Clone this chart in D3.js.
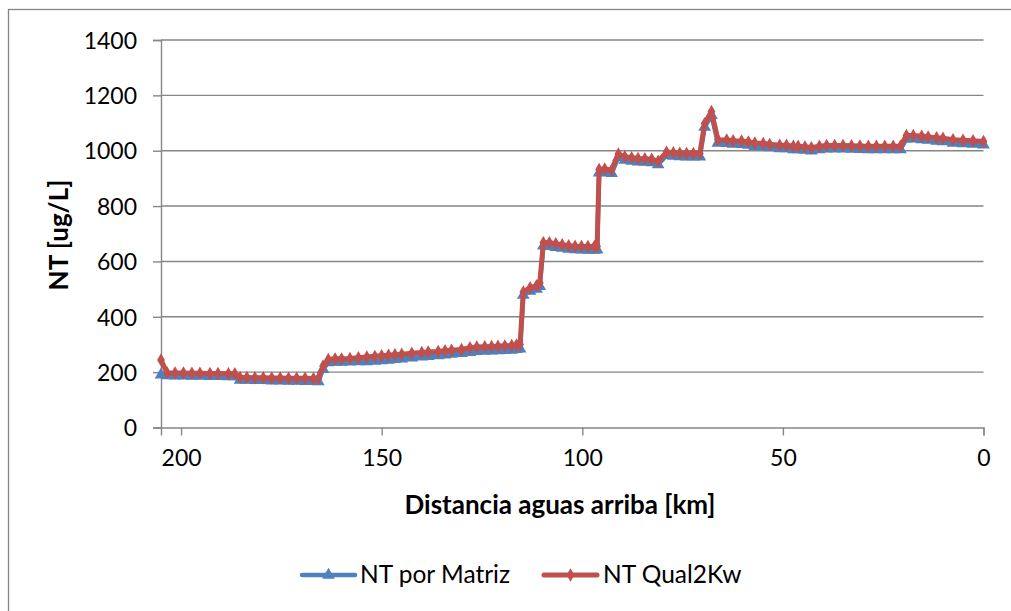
<!DOCTYPE html>
<html>
<head>
<meta charset="utf-8">
<script src="https://cdn.jsdelivr.net/npm/d3@7/dist/d3.min.js"></script>
<style>
  html, body { margin: 0; padding: 0; background: #ffffff; }
  svg { display: block; }
  text { font-family: Lato, "Open Sans", sans-serif; fill: #000; }
</style>
</head>
<body>
<svg id="chart" width="1011" height="611"></svg>
<script>
// Distance upstream (km) of each reach
const distancia = [
  205.0, 203.5, 201.5, 199.4, 197.3, 195.3, 192.8, 190.8, 188.2, 186.6,
  185.3, 183.6, 181.6, 179.5, 177.4, 175.3, 173.2, 171.2, 169.1, 167.0,
  165.8, 164.6, 163.3, 161.6, 160.0, 157.9, 155.8, 153.7, 151.7, 150.0,
  148.3, 146.7, 145.0, 142.5, 140.0, 138.4, 135.9, 134.2, 132.6, 130.1,
  128.0, 126.3, 124.3, 122.6, 121.0, 119.3, 117.6, 116.4, 115.5, 114.7,
  113.0, 111.4, 110.6, 109.7, 108.2, 106.6, 105.0, 103.4, 101.8, 100.2,
  98.6, 97.0, 96.3, 95.8, 94.4, 92.7, 91.0, 89.4, 87.7, 86.1,
  84.4, 82.7, 81.1, 79.0, 77.3, 75.7, 74.0, 72.3, 70.7, 69.5,
  67.8, 66.2, 64.0, 62.4, 60.3, 58.6, 57.0, 54.9, 53.3, 50.8,
  49.1, 47.4, 46.2, 44.5, 42.9, 40.9, 39.1, 37.1, 35.0, 32.9,
  30.8, 28.7, 26.7, 24.6, 22.5, 20.7, 19.2, 17.5, 15.4, 13.8,
  11.7, 10.1, 7.6, 5.1, 2.6, 0.0
];

// Total nitrogen computed with the matrix method (ug/L)
const ntMatriz = [
  190, 188, 187, 187, 186, 186, 185, 185, 184, 184,
  171, 171, 170, 170, 169, 169, 168, 168, 167, 167,
  166, 210, 235, 236, 236, 237, 238, 238, 240, 242,
  244, 246, 248, 252, 255, 257, 260, 263, 265, 268,
  272, 275, 276, 277, 278, 279, 280, 282, 284, 478,
  493, 500, 510, 656, 655, 651, 648, 645, 643, 642,
  641, 641, 642, 920, 922, 918, 976, 966, 963, 960,
  959, 957, 950, 983, 981, 979, 978, 978, 978, 1085,
  1128, 1028, 1027, 1024, 1023, 1020, 1016, 1014, 1011, 1008,
  1008, 1004, 1004, 1002, 1000, 1004, 1007, 1007, 1007, 1006,
  1005, 1004, 1004, 1004, 1004, 1004, 1043, 1043, 1040, 1038,
  1035, 1033, 1028, 1026, 1024, 1021
];

// Total nitrogen simulated with Qual2Kw (ug/L)
const ntQual2Kw = [
  244, 198, 197, 197, 196, 196, 195, 195, 194, 194,
  181, 181, 180, 180, 179, 179, 178, 178, 178, 177,
  177, 222, 246, 248, 248, 249, 252, 255, 257, 259,
  261, 263, 265, 268, 271, 273, 275, 277, 279, 282,
  288, 291, 292, 293, 294, 295, 296, 298, 300, 490,
  505, 512, 522, 668, 668, 664, 660, 657, 655, 654,
  654, 654, 655, 932, 934, 930, 988, 978, 975, 972,
  971, 969, 962, 995, 993, 991, 990, 990, 990, 1098,
  1142, 1040, 1039, 1036, 1035, 1032, 1028, 1026, 1023, 1020,
  1020, 1016, 1016, 1014, 1011, 1016, 1019, 1019, 1019, 1018,
  1017, 1016, 1016, 1016, 1016, 1016, 1055, 1055, 1052, 1050,
  1047, 1045, 1040, 1038, 1036, 1033
];

const xTicks = [200, 150, 100, 50, 0];
const yTicks = [0, 200, 400, 600, 800, 1000, 1200, 1400];

const seriesNames = ["NT por Matriz", "NT Qual2Kw"];
const seriesColors = ["#4F81BD", "#C0504D"];

const svg = d3.select("#chart");
const gray = "#868686";
const TICK_FONT = 23;
const LEGEND_FONT = 24.5;
const TITLE_FONT = 26;

// chart frame
svg.append("rect")
  .attr("x", 8.5).attr("y", 9.5)
  .attr("width", 1030).attr("height", 630)
  .attr("fill", "none").attr("stroke", gray).attr("stroke-width", 1.3);

const x = d3.scaleLinear().domain([205, 0]).range([161, 983.5]);
const y = d3.scaleLinear().domain([0, 1400]).range([427.5, 40]);

// horizontal gridlines
svg.append("g").selectAll("line")
  .data(yTicks.filter(d => d > 0))
  .join("line")
  .attr("x1", x(205)).attr("x2", x(0))
  .attr("y1", d => y(d)).attr("y2", d => y(d))
  .attr("stroke", gray).attr("stroke-width", 1.4);

// y axis
const yAxis = d3.axisLeft(y).tickValues(yTicks).tickSize(8).tickPadding(16).tickFormat(d3.format("d"));
const gy = svg.append("g").attr("transform", `translate(${x(205)},0)`).call(yAxis);
gy.select(".domain").attr("stroke", gray).attr("stroke-width", 1.4);
gy.selectAll(".tick line").attr("stroke", gray).attr("stroke-width", 1.4);
gy.selectAll(".tick text").attr("font-size", TICK_FONT).attr("font-family", "Lato").attr("dy", "0.36em");

// x axis
const xAxis = d3.axisBottom(x).tickValues(xTicks).tickSize(8).tickPadding(14).tickFormat(d3.format("d"));
const gx = svg.append("g").attr("transform", `translate(0,${y(0)})`).call(xAxis);
gx.select(".domain").attr("stroke", gray).attr("stroke-width", 1.4);
gx.selectAll(".tick line").attr("stroke", gray).attr("stroke-width", 1.4);
gx.selectAll(".tick text").attr("font-size", TICK_FONT).attr("font-family", "Lato");

// axis titles
svg.append("text")
  .attr("x", 560).attr("y", 514)
  .attr("text-anchor", "middle")
  .attr("font-size", TITLE_FONT).attr("font-weight", "bold")
  .text("Distancia aguas arriba [km]");

svg.append("text")
  .attr("transform", "translate(68,235) rotate(-90)")
  .attr("text-anchor", "middle")
  .attr("font-size", TITLE_FONT).attr("font-weight", "bold")
  .text("NT [ug/L]");

// series
const series = [ntMatriz, ntQual2Kw];
const symbols = [d3.symbolTriangle, d3.symbolDiamond];
const symbolSizes = [70, 52];
const lineWidths = [4.5, 5];

series.forEach((vals, i) => {
  const pts = distancia.map((d, k) => [d, vals[k]]);
  const line = d3.line().x(d => x(d[0])).y(d => y(d[1]));
  const g = svg.append("g");
  g.append("path")
    .datum(pts)
    .attr("d", line)
    .attr("fill", "none")
    .attr("stroke", seriesColors[i])
    .attr("stroke-width", lineWidths[i])
    .attr("stroke-linejoin", "round")
    .attr("stroke-linecap", "round");
  const sym = d3.symbol().type(symbols[i]).size(symbolSizes[i]);
  g.selectAll("path.m")
    .data(pts)
    .join("path")
    .attr("class", "m")
    .attr("transform", d => `translate(${x(d[0])},${y(d[1])})`)
    .attr("d", sym)
    .attr("fill", seriesColors[i]);
});

// legend
const legendItems = [
  { lx: 302, tx: 360 },
  { lx: 544, tx: 603 }
];
legendItems.forEach((it, i) => {
  const g = svg.append("g");
  g.append("line")
    .attr("x1", it.lx).attr("x2", it.lx + 53)
    .attr("y1", 575).attr("y2", 575)
    .attr("stroke", seriesColors[i]).attr("stroke-width", lineWidths[i])
    .attr("stroke-linecap", "round");
  g.append("path")
    .attr("transform", `translate(${it.lx + 26.5},575)`)
    .attr("d", d3.symbol().type(symbols[i]).size(symbolSizes[i]))
    .attr("fill", seriesColors[i]);
  g.append("text")
    .attr("x", it.tx).attr("y", 583)
    .attr("font-size", LEGEND_FONT)
    .text(seriesNames[i]);
});
</script>
</body>
</html>
